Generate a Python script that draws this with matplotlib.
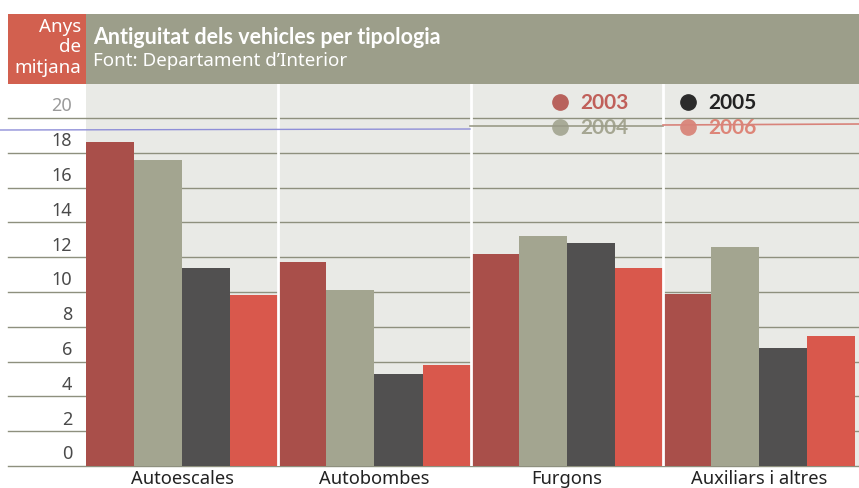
import numpy as np
import matplotlib
matplotlib.use("Agg")
import matplotlib.pyplot as plt
from matplotlib.patches import Rectangle

plt.rcParams['font.family'] = ['Noto Sans', 'DejaVu Sans']
BOLD = ['Lato', 'Open Sans', 'DejaVu Sans']

categories = ['Autoescales', 'Autobombes', 'Furgons', 'Auxiliars i altres']
years = ['2003', '2004', '2005', '2006']
v2003 = [18.6, 11.7, 12.2, 9.9]
v2004 = [17.6, 10.1, 13.2, 12.6]
v2005 = [11.4, 5.3, 12.8, 6.8]
v2006 = [9.8, 5.8, 11.4, 7.5]
yticks = [0, 2, 4, 6, 8, 10, 12, 14, 16, 18, 20]

series = [v2003, v2004, v2005, v2006]
bar_colors = ['#a94f4a', '#a3a590', '#515050', '#d9584c']
legend_dot = ['#b8625c', '#a9ab98', '#2b2b2b', '#d98a7f']
legend_txt = ['#c0605a', '#a5a692', '#222222', '#dd8578']

W, H = 859, 489
fig = plt.figure(figsize=(W / 100, H / 100), dpi=100)
fig.patch.set_facecolor('white')

# plot area in pixels
x0, x1 = 86, 859
y_top, y_zero = 85, 467
ax = fig.add_axes([x0 / W, 1 - y_zero / H, (x1 - x0) / W, (y_zero - y_top) / H])
ax.set_facecolor('#e9eae6')
ymax = (y_zero - y_top) / 17.4
ax.set_ylim(0, ymax)
ax.set_xlim(-0.5, 3.52)
for s in ax.spines.values():
    s.set_visible(False)
ax.set_xticks([])
ax.set_yticks([])

# gridlines reaching out to the left margin
gx0 = -(x0 - 8) / (x1 - x0)
for t in yticks:
    ax.plot([gx0, 1], [t, t], transform=ax.get_yaxis_transform(), color='#8e907e',
            lw=1.0, clip_on=False, zorder=1)
    ax.text(gx0 + 0.083, t + 0.72, str(t), transform=ax.get_yaxis_transform(),
            ha='right', va='center', fontsize=13,
            color='#9a9a9a' if t == 20 else '#4a4a4a')

x = np.arange(len(categories))
w = 0.25
for i, vals in enumerate(series):
    ax.bar(x + (i - 1.5) * w, vals, width=w, color=bar_colors[i], zorder=2, linewidth=0)

# white separators between groups
for k in range(1, 4):
    ax.axvline(k - 0.5, color='white', lw=2, zorder=3)

for i, c in enumerate(categories):
    ax.text(x[i], -0.2, c, ha='center', va='top', fontsize=13.2, color='#222222')

# legend
pos = [(0.613, 0.953), (0.613, 0.888), (0.779, 0.953), (0.779, 0.888)]
for i, yr in enumerate(years):
    px, py = pos[i]
    ax.plot([px], [py], 'o', ms=11, color=legend_dot[i], transform=ax.transAxes,
            zorder=5, clip_on=False)
    ax.text(px + 0.026, py, yr, transform=ax.transAxes, ha='left', va='center',
            fontsize=15, fontweight='bold', family=BOLD, color=legend_txt[i], zorder=5)

# scan lines
fig.add_artist(plt.Line2D([0, 470 / W], [1 - 131 / H, 1 - 130 / H], color='#8f8fd8', lw=1))
fig.add_artist(plt.Line2D([470 / W, 663 / W], [1 - 127 / H, 1 - 127 / H], color='#9a9b88', lw=1.2))
fig.add_artist(plt.Line2D([663 / W, 1], [1 - 126 / H, 1 - 125 / H], color='#d8837a', lw=1.2))

# header
fig.add_artist(Rectangle((8 / W, 1 - 85 / H), 78 / W, 70 / H, transform=fig.transFigure,
                         facecolor='#d2604f', edgecolor='none'))
fig.add_artist(Rectangle((86 / W, 1 - 85 / H), (W - 86) / W, 70 / H, transform=fig.transFigure,
                         facecolor='#9c9e8a', edgecolor='none'))
for txt, yy in [('Anys', 27), ('de', 47), ('mitjana', 68)]:
    fig.text(81 / W, 1 - yy / H, txt, ha='right', va='center', fontsize=13.5, color='white')
fig.text(93 / W, 1 - 38 / H, 'Antiguitat dels vehicles per tipologia', ha='left', va='center',
         fontsize=15.5, fontweight='bold', family=BOLD, color='white')
fig.text(93 / W, 1 - 61 / H, "Font: Departament d\u2019Interior", ha='left', va='center',
         fontsize=13.5, color='white')

fig.savefig('out.png', dpi=100)
